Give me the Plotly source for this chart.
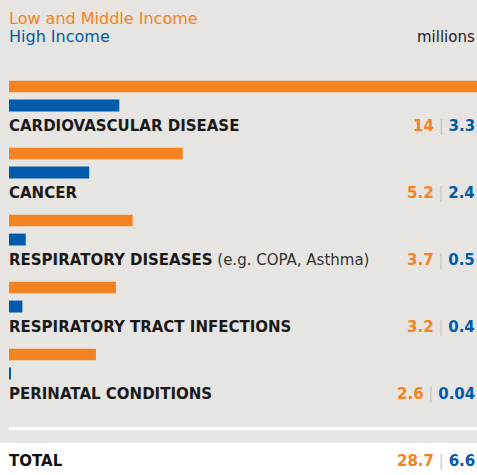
import plotly.graph_objects as go

categories = ["CARDIOVASCULAR DISEASE", "CANCER", "RESPIRATORY DISEASES",
              "RESPIRATORY TRACT INFECTIONS", "PERINATAL CONDITIONS"]
category_notes = ["", "", " (e.g. COPA, Asthma)", "", ""]
low_middle = [14, 5.2, 3.7, 3.2, 2.6]
high = [3.3, 2.4, 0.5, 0.4, 0.04]
low_middle_labels = ["14", "5.2", "3.7", "3.2", "2.6"]
high_labels = ["3.3", "2.4", "0.5", "0.4", "0.04"]
total_label = "TOTAL"
total_low_middle = "28.7"
total_high = "6.6"

ORANGE = "#f58220"
BLUE = "#005baa"
GRAY_BG = "#e6e5e1"
SEP = "#c8c7c3"
W, H = 477, 475
FONT = "DejaVu Sans"

rows = list(range(len(categories)))
blue_off = 0.284
label_off = 0.59

fig = go.Figure()
fig.add_trace(go.Bar(
    y=rows, x=low_middle, orientation="h", width=0.175,
    marker=dict(color=ORANGE, line=dict(width=0)), hoverinfo="skip"))
fig.add_trace(go.Bar(
    y=[r + blue_off for r in rows], x=high, orientation="h", width=0.178,
    marker=dict(color=BLUE, line=dict(width=0)), hoverinfo="skip"))


def value_text(a, b):
    return ("<b><span style='color:%s'>%s</span></b> <span style='color:%s'>|</span> "
            "<b><span style='color:%s'>%s</span></b>") % (ORANGE, a, SEP, BLUE, b)


LX = 7 / W
annotations = []
for i, cat in enumerate(categories):
    txt = "<b>" + cat + "</b>"
    if category_notes[i]:
        txt += "<span style='color:#333'>" + category_notes[i] + "</span>"
    annotations.append(dict(
        x=LX, xref="paper", y=i + label_off, yref="y", text=txt,
        showarrow=False, xanchor="left", yanchor="middle",
        font=dict(family=FONT, size=15, color="#1a1a1a")))
    annotations.append(dict(
        x=1, xref="paper", y=i + label_off, yref="y",
        text=value_text(low_middle_labels[i], high_labels[i]),
        showarrow=False, xanchor="right", yanchor="middle",
        font=dict(family=FONT, size=15)))

annotations.append(dict(
    x=LX, xref="paper", y=len(categories) + label_off, yref="y",
    text="<b>" + total_label + "</b>", showarrow=False, xanchor="left", yanchor="middle",
    font=dict(family=FONT, size=15, color="#111")))
annotations.append(dict(
    x=1, xref="paper", y=len(categories) + label_off, yref="y",
    text=value_text(total_low_middle, total_high),
    showarrow=False, xanchor="right", yanchor="middle",
    font=dict(family=FONT, size=15)))

annotations += [
    dict(x=LX, xref="paper", y=1 - 18 / H, yref="paper", text="Low and Middle Income",
         showarrow=False, xanchor="left", yanchor="middle",
         font=dict(family=FONT, size=16, color=ORANGE)),
    dict(x=LX, xref="paper", y=1 - 37 / H, yref="paper", text="High Income",
         showarrow=False, xanchor="left", yanchor="middle",
         font=dict(family=FONT, size=16, color=BLUE)),
    dict(x=1, xref="paper", y=1 - 37 / H, yref="paper", text="millions",
         showarrow=False, xanchor="right", yanchor="middle",
         font=dict(family=FONT, size=15, color="#222")),
]

shapes = [
    dict(type="rect", xref="paper", yref="paper", x0=0, x1=1, y0=1 - 443 / H, y1=1,
         fillcolor=GRAY_BG, line=dict(width=0), layer="below"),
    dict(type="rect", xref="paper", yref="paper", x0=9 / W, x1=1,
         y0=1 - 430 / H, y1=1 - 427 / H, fillcolor="white", line=dict(width=0), layer="below"),
]

y_top = -86.5 / 67
y_bottom = (H - 86.5) / 67

fig.update_layout(
    width=W, height=H, margin=dict(l=0, r=0, t=0, b=0),
    paper_bgcolor="white", plot_bgcolor="rgba(0,0,0,0)",
    showlegend=False, barmode="overlay",
    xaxis=dict(domain=[9 / W, 1], range=[0, 14], visible=False, fixedrange=True),
    yaxis=dict(domain=[0, 1], range=[y_bottom, y_top], visible=False, fixedrange=True),
    annotations=annotations, shapes=shapes,
)

fig.write_html("out.html", config=dict(displayModeBar=False),
               post_script="document.body.style.margin='0';document.body.style.overflow='hidden';")
